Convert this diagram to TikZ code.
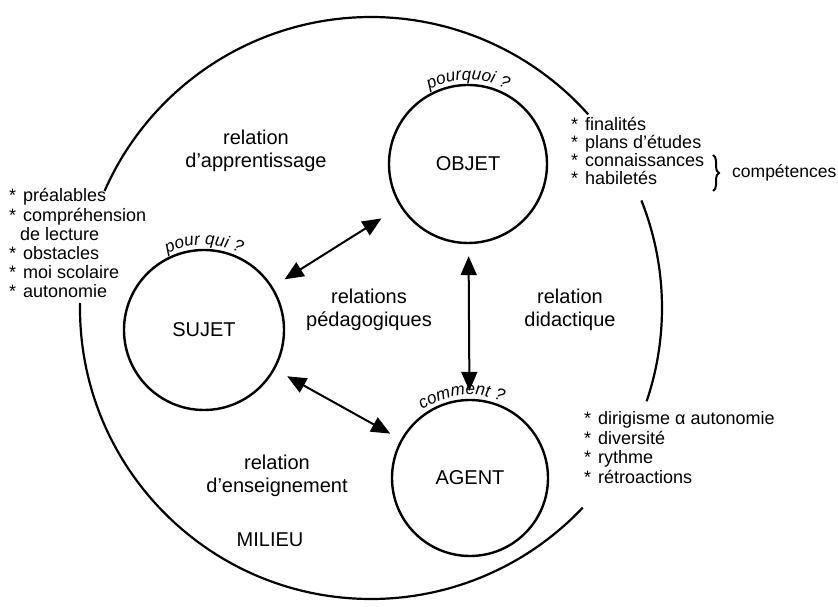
\documentclass[tikz,border=0pt]{standalone}
\usepackage{fontspec}
\setmainfont{Liberation Sans}
\usetikzlibrary{arrows.meta,decorations.text,decorations.pathreplacing}

% bullet used in the three side lists
\newcommand\bul{\makebox[14pt][l]{*}}

\begin{document}
\begin{tikzpicture}[x=1pt,y=1pt,
  pole/.style={circle, draw, line width=2.4pt, inner sep=0pt,
    font=\fontsize{20}{24}\selectfont},
  milieu/.style={line width=2.2pt},
  reltext/.style={align=center, inner sep=0pt,
    font=\fontsize{20}{23.5}\selectfont},
  listtxt/.style={anchor=base west, inner sep=0pt,
    font=\fontsize{18}{19}\selectfont},
  link/.style={{Triangle[length=19pt,width=16pt]}-{Triangle[length=19pt,width=16pt]},
    line width=2pt},
  question/.style={decorate, decoration={text along path, text align=center,
    text={|\itshape\fontsize{17}{20}\selectfont|#1}}},
]
\useasboundingbox (0,0) rectangle (838,607);

% the three poles
\node[pole, minimum size=158pt] (objet) at (468,443) {OBJET};
\node[pole, minimum size=160pt] (sujet) at (204,277) {SUJET};
\node[pole, minimum size=156pt] (agent) at (470,129) {AGENT};

% questions written along the poles
\path[question={pourquoi ?}] (objet.center) ++(150:84) arc[start angle=150, end angle=30, radius=84];
\path[question={pour qui ?}] (sujet.center) ++(150:85) arc[start angle=150, end angle=30, radius=85];
\path[question={comment ?}] (agent.center) ++(156:83) arc[start angle=156, end angle=36, radius=83];

% the surrounding milieu, open where the lists sit
\coordinate (mc) at (371,299);
\draw[milieu] (mc) ++(41.7:291) arc[start angle=41.7, end angle=156.3, radius=291];
\draw[milieu] (mc) ++(179:291) arc[start angle=179, end angle=316.7, radius=291];
\draw[milieu] (mc) ++(-18.7:291) arc[start angle=-18.7, end angle=21.7, radius=291];

% relations between the poles
\draw[link, shorten <=14pt, shorten >=22pt] (sujet) -- (objet);
\draw[link, shorten <=14pt, shorten >=12pt] (sujet) -- (agent);
\draw[link, shorten <=12pt, shorten >=8pt] (objet) -- (agent);

% relation labels
\node[reltext] (appr) at (256,456) {relation\\d'apprentissage};
\node[reltext] (peda) at (369,297) {relations\\pédagogiques};
\node[reltext] (dida) at (570,297) {relation\\didactique};
\node[reltext] (ens)  at (277,131) {relation\\d'enseignement};
\node[reltext] (mil)  at (270,67)  {MILIEU};

% list beside the subject
\foreach \t [count=\i] in {{\bul préalables},{\bul compréhension},{\hspace*{11pt}de lecture},{\bul obstacles},{\bul moi scolaire},{\bul autonomie}}
  \node[listtxt] (s\i) at (9,{405-19.2*(\i-1)}) {\t};

% list beside the object
\foreach \t [count=\i] in {{\bul finalités},{\bul plans d'études},{\bul connaissances},{\bul habiletés}}
  \node[listtxt] (o\i) at (571,{476-18*(\i-1)}) {\t};
\coordinate (brtop) at (713,452);
\coordinate (brbot) at (713,416);
\draw[decorate, decoration={brace, amplitude=6pt}, line width=2pt] (brtop) -- (brbot);
\node[listtxt, font=\fontsize{17.5}{19}\selectfont] (comp) at (732,429) {compétences};

% list beside the agent
\foreach \t [count=\i] in {{\bul dirigisme α autonomie},{\bul diversité},{\bul rythme},{\bul rétroactions}}
  \node[listtxt] (a\i) at (584,{182-19.5*(\i-1)}) {\t};
\end{tikzpicture}
\end{document}
